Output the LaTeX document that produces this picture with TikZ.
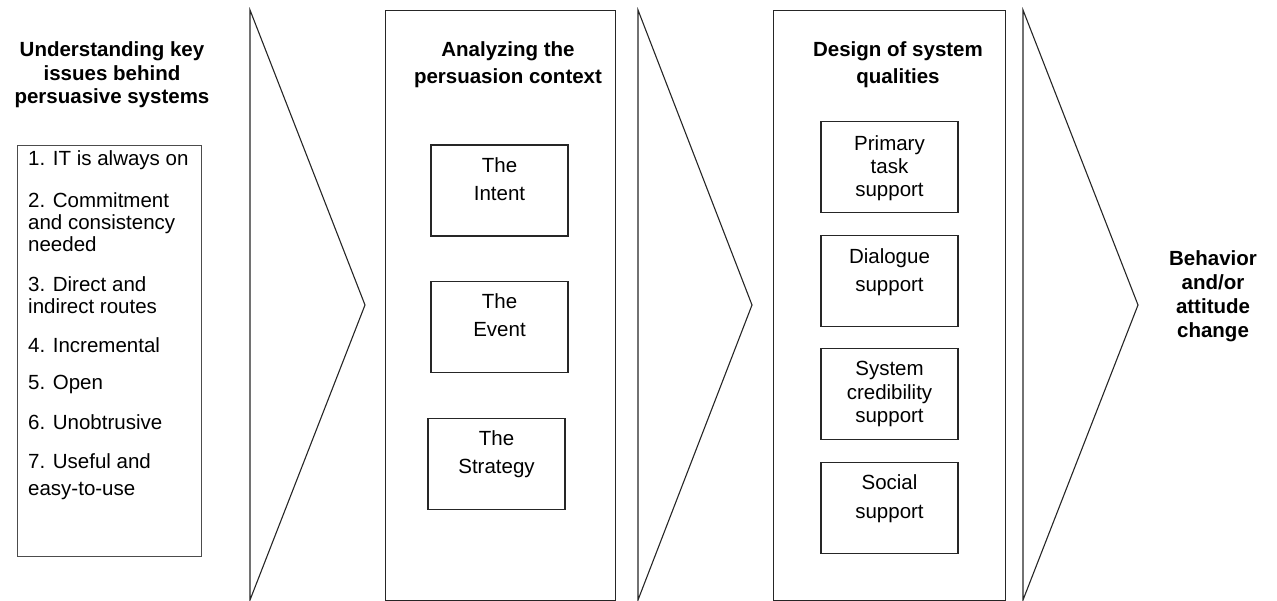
\documentclass[tikz,border=0pt]{standalone}
\usepackage{fontspec}
\setmainfont{Liberation Sans}
\usetikzlibrary{positioning}

\tikzset{
  lineframe/.style={draw=black!85, line width=1.1pt},
  stagebox/.style={lineframe, anchor=north west, inner sep=0pt, minimum height=590},
  innerbox/.style={lineframe, inner sep=0pt, minimum width=137, minimum height=91},
  headtxt/.style={font=\bfseries\fontsize{20.5}{23.5}\selectfont, align=center, inner sep=0pt},
  listtxt/.style={font=\fontsize{20.5}{22}\selectfont, align=left, anchor=north west, inner sep=0pt},
  boxtxt/.style={font=\fontsize{20.5}{28}\selectfont, align=center, inner sep=0pt},
}

\begin{document}
\begin{tikzpicture}[x=1pt, y=-1pt, node distance=44.5pt]
    \useasboundingbox (0,0) rectangle (1277,601);

    % column 1: key issues
    \node [headtxt] (issues) at (112,75) {Understanding key\\issues behind\\persuasive systems};
    \node [lineframe, draw=black!70, line width=1.3pt, anchor=north west, inner sep=0pt,
           minimum width=184, minimum height=411] (list) at (17,145) {};
    \node [listtxt] (i1) at (28,150) {1. IT is always on};
    \node [listtxt] (i2) at (28,192) {2. Commitment\\and consistency\\needed};
    \node [listtxt] (i3) at (28,276) {3. Direct and\\indirect routes};
    \node [listtxt] (i4) at (28,337) {4. Incremental};
    \node [listtxt] (i5) at (28,375) {5. Open};
    \node [listtxt] (i6) at (28,414) {6. Unobtrusive};
    \node [listtxt] (i7) at (28,453) {7. Useful and\\[5pt]easy-to-use};

    % chevrons
    \foreach \x/\d in {250/115, 638/114, 1023/115}
        \draw [lineframe, line join=miter] (\x,10) -- ++(\d,295) -- (\x,600) -- cycle;

    % column 2: persuasion context
    \node [stagebox, minimum width=230] (context) at (385,10) {};
    \node [headtxt, font=\bfseries\fontsize{20.5}{27}\selectfont] (context-t) at (508,65) {Analyzing the\\persuasion context};
    \node [innerbox] (intent) at (499.5,190.5) {};
    \node [innerbox, below=of intent] (event) {};
    \node [innerbox, below=of event, xshift=-3pt] (strategy) {};
    \node [boxtxt] (intent-t) at ([yshift=11.5]intent.center) {The\\Intent};
    \node [boxtxt] (event-t) at ([yshift=12]event.center) {The\\Event};
    \node [boxtxt] (strategy-t) at ([yshift=10]strategy.center) {The\\Strategy};

    % column 3: system qualities
    \node [stagebox, minimum width=232] (design) at (773,10) {};
    \node [headtxt, font=\bfseries\fontsize{20.5}{27}\selectfont] (design-t) at (898,65) {Design of system\\qualities};
    \node [innerbox] (primary) at (889.5,167) {};
    \node [innerbox, below=21.5pt of primary] (dialogue) {};
    \node [innerbox, below=21.5pt of dialogue] (credib) {};
    \node [innerbox, below=21.5pt of credib] (social) {};
    \node [boxtxt, font=\fontsize{20.5}{23}\selectfont] (primary-t) at ([yshift=-1]primary.center) {Primary\\task\\support};
    \node [boxtxt] (dialogue-t) at ([yshift=8.5]dialogue.center) {Dialogue\\support};
    \node [boxtxt, font=\fontsize{20.5}{23.5}\selectfont] (credib-t) at (credib.center) {System\\credibility\\support};
    \node [boxtxt, font=\fontsize{20.5}{29}\selectfont] (social-t) at ([yshift=9]social.center) {Social\\support};

    % outcome
    \node [headtxt, font=\bfseries\fontsize{20.5}{24}\selectfont] (change) at (1213,296) {Behavior\\and/or\\attitude\\change};
\end{tikzpicture}
\end{document}
